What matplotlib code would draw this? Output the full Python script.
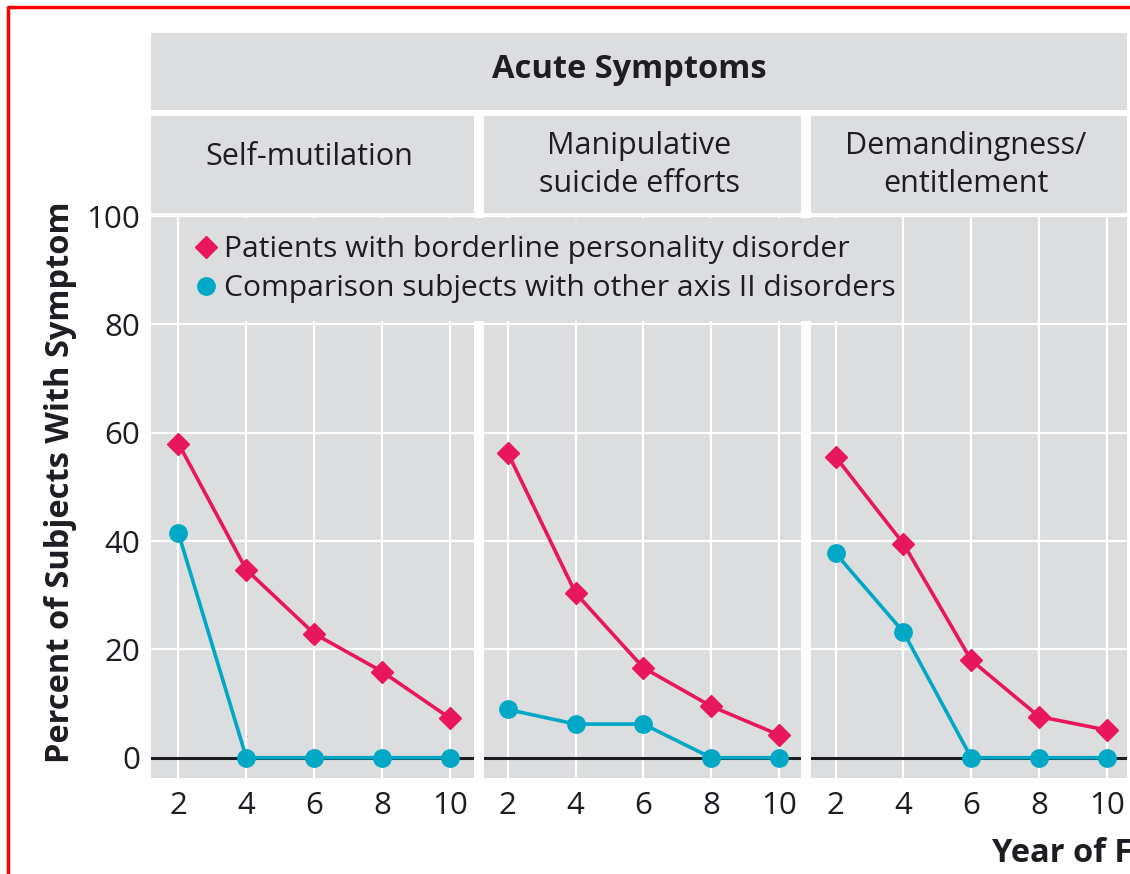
import matplotlib.pyplot as plt
from matplotlib.lines import Line2D
from matplotlib.patches import Rectangle

# data
years = [2, 4, 6, 8, 10]
panel_titles = ["Self-mutilation", "Manipulative\nsuicide efforts", "Demandingness/\nentitlement"]
borderline = [
    [58.0, 34.7, 22.9, 15.9, 7.3],
    [56.3, 30.4, 16.6, 9.5, 4.2],
    [55.5, 39.5, 18.0, 7.6, 5.1],
]
comparison = [
    [41.4, 0, 0, 0, 0],
    [8.9, 6.2, 6.2, 0, 0],
    [37.7, 23.2, 0, 0, 0],
]
y_ticks = [0, 20, 40, 60, 80, 100]
legend_labels = ["Patients with borderline personality disorder",
                 "Comparison subjects with other axis II disorders"]
group_title = "Acute Symptoms"
x_title = "Year of Follow-Up"
y_title = "Percent of Subjects With Symptom"

W, H = 1130, 874
GREY = "#dcdddf"
RED = "#e8175d"
CYAN = "#00a8c6"
INK = "#1f1d24"
FONT = "Open Sans"
FS = 22      # regular text
FS_B = 23.5  # bold titles

plt.rcParams["font.family"] = [FONT, "DejaVu Sans"]
plt.rcParams["text.color"] = INK


def fx(px):
    return px / W


def fy(py):
    # pixel rows are counted from the top
    return 1 - py / H


fig = plt.figure(figsize=(W / 100, H / 100), dpi=100)

# panel pixel edges (left, right) and x limits
panels = [(151, 474, (1.19, 10.71)), (484, 801, (1.30, 10.65)), (811, 1127, (1.27, 10.60))]
top, bottom = 216, 778

for i, (l, r, xlim) in enumerate(panels):
    ax = fig.add_axes([fx(l), fy(bottom), fx(r - l), (bottom - top) / H])
    ax.set_facecolor(GREY)
    for s in ax.spines.values():
        s.set_visible(False)
    ax.set_xlim(*xlim)
    ax.set_ylim(-3.75, 100)
    ax.set_xticks(years)
    ax.set_yticks(y_ticks)
    ax.grid(True, color="white", linewidth=1.6)
    ax.set_axisbelow(True)
    ax.tick_params(length=0, labelsize=22.5, labelcolor=INK)
    ax.tick_params(axis="x", pad=9)
    ax.tick_params(axis="y", pad=8)
    if i > 0:
        ax.set_yticklabels([])
    ax.axhline(0, color=INK, linewidth=2.2, zorder=2)
    ax.plot(years, comparison[i], color=CYAN, linewidth=2.6, marker="o",
            markersize=12.5, zorder=3, clip_on=False)
    ax.plot(years, borderline[i], color=RED, linewidth=2.6, marker="D",
            markersize=11, zorder=4, clip_on=False)

    # panel strip
    fig.add_artist(Rectangle((fx(l), fy(213)), fx(r - l), 97 / H,
                             transform=fig.transFigure, facecolor=GREY, edgecolor="none"))
    ty = 157 if "\n" not in panel_titles[i] else 165
    fig.text(fx((l + r) / 2 - 3), fy(ty), panel_titles[i], ha="center", va="center",
             fontsize=FS, linespacing=1.32)

# top strip
fig.add_artist(Rectangle((fx(151), fy(110)), fx(1127 - 151), 77 / H,
                         transform=fig.transFigure, facecolor=GREY, edgecolor="none"))
fig.text(fx(629), fy(69), group_title, ha="center", va="center",
         fontsize=FS_B, fontweight="bold")

# legend sits on a grey box that hides the gridlines
fig.add_artist(Rectangle((fx(183), fy(321)), fx(900 - 183), 103 / H,
                         transform=fig.transFigure, facecolor=GREY, edgecolor="none", zorder=4))
handles = [Line2D([], [], color=RED, marker="D", linestyle="none", markersize=11),
           Line2D([], [], color=CYAN, marker="o", linestyle="none", markersize=12.5)]
fig.legend(handles, legend_labels, loc="upper left", bbox_to_anchor=(fx(192), fy(235)),
           frameon=False, fontsize=21.6, handlelength=0.9, handletextpad=0.15,
           borderpad=0, borderaxespad=0, labelspacing=0.34)

fig.text(fx(61), fy(482), y_title, rotation=90, ha="center", va="center",
         fontsize=FS_B, fontweight="bold")
fig.text(fx(992), fy(854), x_title, ha="left", va="center",
         fontsize=FS_B, fontweight="bold")

# red frame of the screenshot crop (top and left only)
fig.add_artist(Line2D([fx(8), fx(8), 1], [0, fy(7), fy(7)], transform=fig.transFigure,
                      color="#ff0000", linewidth=2.5))

fig.savefig("out.png", dpi=100)
